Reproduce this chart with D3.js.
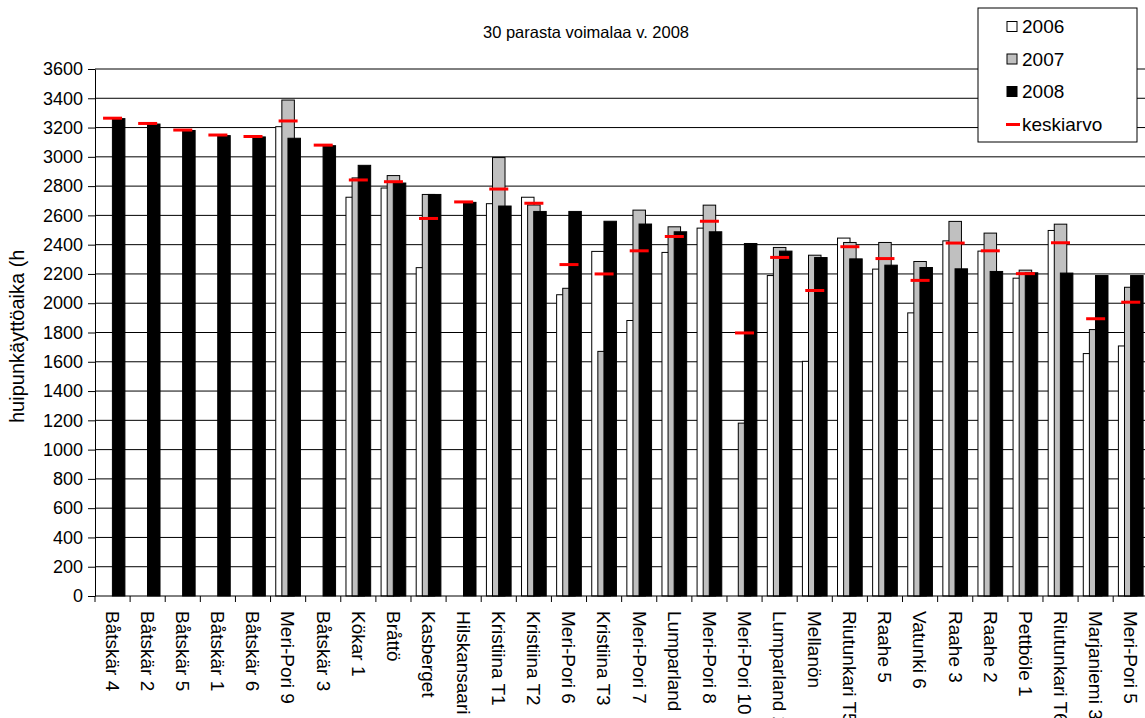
<!DOCTYPE html>
<html>
<head>
<meta charset="utf-8">
<script src="https://cdn.jsdelivr.net/npm/d3@7/dist/d3.min.js"></script>
<style>
  html, body { margin: 0; padding: 0; background: #fff; }
  svg { display: block; font-family: "Liberation Sans", Arial, sans-serif; }
</style>
</head>
<body>
<svg id="chart" width="1145" height="718"></svg>
<script>
// Full-load hours of the 30 best wind power plants of 2008
const categories = [
  "Båtskär 4", "Båtskär 2", "Båtskär 5", "Båtskär 1", "Båtskär 6",
  "Meri-Pori 9", "Båtskär 3", "Kökar 1", "Bråttö", "Kasberget",
  "Hilskansaari", "Kristiina T1", "Kristiina T2", "Meri-Pori 6", "Kristiina T3",
  "Meri-Pori 7", "Lumparland 1", "Meri-Pori 8", "Meri-Pori 10", "Lumparland 2",
  "Mellanön", "Riutunkari T5", "Raahe 5", "Vatunki 6", "Raahe 3",
  "Raahe 2", "Pettböle 1", "Riutunkari T6", "Marjaniemi 3", "Meri-Pori 5"
];

const years = ["2006", "2007", "2008"];

const values2006 = [
  null, null, null, null, null,
  3206, null, 2724, 2787, 2243,
  null, 2680, 2724, 2058, 2354,
  1882, 2347, 2513, null, 2189,
  1603, 2445, 2233, 1934, 2426,
  2356, 2171, 2497, 1656, 1708
];

const values2007 = [
  null, null, null, null, null,
  3388, null, 2856, 2872, 2743,
  null, 2995, 2671, 2102, 1671,
  2636, 2522, 2670, 1181, 2381,
  2328, 2415, 2415, 2285, 2559,
  2479, 2226, 2540, 1820, 2109
];

const values2008 = [
  3261, 3224, 3180, 3145, 3136,
  3127, 3076, 2942, 2821, 2743,
  2689, 2664, 2627, 2627, 2560,
  2541, 2488, 2488, 2408, 2356,
  2312, 2303, 2260, 2244, 2235,
  2217, 2208, 2206, 2189, 2189
];

const keskiarvo = [
  3264, 3228, 3183, 3149, 3139,
  3245, 3080, 2842, 2830, 2579,
  2692, 2780, 2683, 2264, 2200,
  2358, 2456, 2560, 1797, 2313,
  2087, 2386, 2305, 2156, 2411,
  2358, 2202, 2413, 1894, 2007
];

const yTicks = [0, 200, 400, 600, 800, 1000, 1200, 1400, 1600, 1800,
                2000, 2200, 2400, 2600, 2800, 3000, 3200, 3400, 3600];

const title = "30 parasta voimalaa v. 2008";
const yTitle = "huipunkäyttöaika (h)";
const avgLabel = "keskiarvo";

const seriesValues = [values2006, values2007, values2008];
const seriesFill = ["#ffffff", "#c0c0c0", "#000000"];

const svg = d3.select("#chart");
const font = "Liberation Sans, Arial, sans-serif";

// Scales
const plotLeft = 95, catStep = 35.11, plotBottom = 596, plotTop = 69;
const x = d3.scaleBand()
  .domain(categories)
  .range([plotLeft, plotLeft + catStep * categories.length])
  .paddingInner(0).paddingOuter(0);
const y = d3.scaleLinear().domain([0, 3600]).range([plotBottom, plotTop]);

const barW = 12.5, barShift = 6.1;

// Title
svg.append("text")
  .attr("x", 586).attr("y", 38)
  .attr("text-anchor", "middle")
  .attr("font-size", 16.5)
  .attr("fill", "#000")
  .text(title);

// Horizontal gridlines
svg.append("g")
  .selectAll("line")
  .data(yTicks.filter(d => d > 0))
  .join("line")
  .attr("x1", plotLeft).attr("x2", 1145)
  .attr("y1", d => y(d)).attr("y2", d => y(d))
  .attr("stroke", "#000").attr("stroke-width", 1);

// Bars, series drawn back to front: 2006, 2007, 2008
seriesValues.forEach((vals, si) => {
  svg.append("g")
    .selectAll("rect")
    .data(categories.map((c, i) => ({ c, v: vals[i] })).filter(d => d.v != null))
    .join("rect")
    .attr("x", d => x(d.c) + x.bandwidth() / 2 + (si - 1) * barShift - barW / 2)
    .attr("width", barW)
    .attr("y", d => y(d.v))
    .attr("height", d => y(0) - y(d.v))
    .attr("fill", seriesFill[si])
    .attr("stroke", "#000")
    .attr("stroke-width", 1);
});

// Average markers
svg.append("g")
  .selectAll("line")
  .data(categories.map((c, i) => ({ c, v: keskiarvo[i] })))
  .join("line")
  .attr("x1", d => x(d.c) + x.bandwidth() / 2 - 9.5)
  .attr("x2", d => x(d.c) + x.bandwidth() / 2 + 9.5)
  .attr("y1", d => y(d.v)).attr("y2", d => y(d.v))
  .attr("stroke", "#ff0000").attr("stroke-width", 3);

// Y axis
const yAxis = svg.append("g")
  .attr("transform", `translate(${plotLeft},0)`)
  .call(d3.axisLeft(y).tickValues(yTicks).tickFormat(d3.format("d"))
    .tickSize(7).tickPadding(5).tickSizeOuter(0));
yAxis.select(".domain").attr("stroke", "#000");
yAxis.selectAll(".tick line").attr("stroke", "#000");
yAxis.selectAll(".tick text")
  .attr("font-family", font).attr("font-size", 18).attr("fill", "#000");

// X axis: line, boundary ticks, and rotated category labels
svg.append("line")
  .attr("x1", plotLeft).attr("x2", 1145)
  .attr("y1", plotBottom).attr("y2", plotBottom)
  .attr("stroke", "#000");
svg.append("g")
  .selectAll("line")
  .data(categories.concat([null]))
  .join("line")
  .attr("x1", (d, i) => i < categories.length ? x(d) : x.range()[1])
  .attr("x2", (d, i) => i < categories.length ? x(d) : x.range()[1])
  .attr("y1", plotBottom).attr("y2", plotBottom + 6)
  .attr("stroke", "#000");

const xAxis = svg.append("g")
  .attr("transform", `translate(0,${plotBottom})`)
  .call(d3.axisBottom(x).tickSize(0).tickPadding(0));
xAxis.select(".domain").remove();
xAxis.selectAll(".tick text")
  .attr("font-family", font).attr("font-size", 19).attr("fill", "#000")
  .attr("text-anchor", "start")
  .attr("transform", "rotate(90)")
  .attr("x", 15).attr("y", 0).attr("dy", "0.35em");

// Y axis title (clipped where its frame ends)
svg.append("clipPath").attr("id", "ytitle-clip")
  .append("rect").attr("x", 0).attr("y", 250).attr("width", 60).attr("height", 300);
svg.append("g").attr("clip-path", "url(#ytitle-clip)")
  .append("text")
  .attr("transform", "translate(24,423) rotate(-90)")
  .attr("text-anchor", "start")
  .attr("font-size", 20)
  .attr("fill", "#000")
  .text(yTitle);

// Legend
const lg = svg.append("g");
lg.append("rect")
  .attr("x", 978).attr("y", 8).attr("width", 159).attr("height", 134)
  .attr("fill", "#fff").attr("stroke", "#000");
const rowY = [26.5, 59, 91.5, 124.5];
years.forEach((yr, i) => {
  lg.append("rect")
    .attr("x", 1007).attr("y", rowY[i] - 5).attr("width", 10).attr("height", 10)
    .attr("fill", seriesFill[i]).attr("stroke", "#000");
  lg.append("text")
    .attr("x", 1022).attr("y", rowY[i]).attr("dy", "0.35em")
    .attr("font-size", 19).attr("fill", "#000")
    .text(yr);
});
lg.append("line")
  .attr("x1", 1006).attr("x2", 1020)
  .attr("y1", rowY[3]).attr("y2", rowY[3])
  .attr("stroke", "#ff0000").attr("stroke-width", 3);
lg.append("text")
  .attr("x", 1022).attr("y", rowY[3]).attr("dy", "0.35em")
  .attr("font-size", 19).attr("fill", "#000")
  .text(avgLabel);
</script>
</body>
</html>
